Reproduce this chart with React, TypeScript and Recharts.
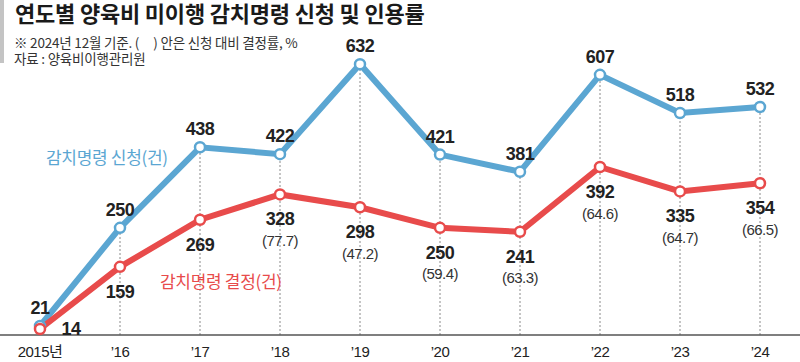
import React from 'react';
import { LineChart, Line, XAxis, YAxis, ReferenceLine, LabelList } from 'recharts';

const years = ['2015년', '’16', '’17', '’18', '’19', '’20', '’21', '’22', '’23', '’24'];
const applied = [21, 250, 438, 422, 632, 421, 381, 607, 518, 532];
const decided = [14, 159, 269, 328, 298, 250, 241, 392, 335, 354];
const rates = [null, null, null, 77.7, 47.2, 59.4, 63.3, 64.6, 64.7, 66.5];

const BLUE = '#5ba6d2';
const RED = '#e84b4b';
const NUM_FONT = "'Liberation Sans', Arial, 'Noto Sans CJK KR', sans-serif";
const KR_FONT = "'Noto Sans CJK KR', 'Noto Sans', sans-serif";

const data = years.map((year, i) => ({
  year,
  applied: applied[i],
  decided: decided[i],
  rate: rates[i],
}));

const dot = (color: string) => (p: any) => (
  <circle key={p.index} cx={p.cx} cy={p.cy} r={5} fill="#fff" stroke={color} strokeWidth={2.5} />
);

const AppliedLabel = (p: any) => (
  <text
    x={p.x}
    y={p.y - 18}
    textAnchor="middle"
    dominantBaseline="central"
    fontFamily={NUM_FONT}
    fontSize={18}
    fontWeight="bold"
    letterSpacing={-0.5}
    fill="#222"
  >
    {p.value}
  </text>
);

const DecidedLabel = (p: any) => {
  const rate = rates[p.index];
  if (p.index === 0) {
    return (
      <text x={p.x + 31} y={p.y} textAnchor="middle" dominantBaseline="central"
        fontFamily={NUM_FONT} fontSize={18} fontWeight="bold" letterSpacing={-0.5} fill="#222">
        {p.value}
      </text>
    );
  }
  return (
    <g>
      <text x={p.x} y={p.y + 25} textAnchor="middle" dominantBaseline="central"
        fontFamily={NUM_FONT} fontSize={18} fontWeight="bold" letterSpacing={-0.5} fill="#222">
        {p.value}
      </text>
      {rate != null && (
        <text x={p.x} y={p.y + 46} textAnchor="middle" dominantBaseline="central"
          fontFamily={NUM_FONT} fontSize={15} letterSpacing={-0.5} fill="#333">
          ({rate.toFixed(1)})
        </text>
      )}
    </g>
  );
};

const Tick = (p: any) => (
  <text x={p.x} y={p.y + 8} textAnchor="middle" dominantBaseline="central"
    fontFamily={NUM_FONT} fontSize={15} letterSpacing={-0.5} fill="#222">
    {p.payload.value}
  </text>
);

export default function App() {
  return (
    <div style={{ position: 'absolute', left: 0, top: 0, width: 800, height: 362, background: '#fff' }}>
      <div style={{ position: 'absolute', left: 0, top: 0, width: 4, height: 63, background: '#c4c4c4' }} />
      <div style={{ position: 'absolute', left: 15, top: 0, lineHeight: '24px', fontFamily: KR_FONT, fontWeight: 700, fontSize: 22, letterSpacing: -0.2, color: '#1a1a1a', whiteSpace: 'nowrap' }}>
        연도별 양육비 미이행 감치명령 신청 및 인용률
      </div>
      <div style={{ position: 'absolute', left: 14, top: 35, lineHeight: '15px', fontFamily: KR_FONT, fontSize: 13.5, letterSpacing: -0.2, color: '#333', whiteSpace: 'nowrap' }}>
        ※ 2024년 12월 기준. (&nbsp;&nbsp;&nbsp;&nbsp;&nbsp;) 안은 신청 대비 결정률, %
      </div>
      <div style={{ position: 'absolute', left: 14, top: 51, lineHeight: '15px', fontFamily: KR_FONT, fontSize: 13.5, letterSpacing: -0.2, color: '#333', whiteSpace: 'nowrap' }}>
        자료 : 양육비이행관리원
      </div>
      <LineChart width={800} height={362} data={data} margin={{ top: 35, right: 0, bottom: 0, left: 0 }}>
        <YAxis hide domain={[0, 700]} />
        <XAxis
          dataKey="year"
          padding={{ left: 40, right: 40 }}
          tickLine={false}
          axisLine={{ stroke: '#555', strokeWidth: 1.5 }}
          tick={Tick}
          interval={0}
          height={27}
        />
        {data.slice(1).map((d) => (
          <ReferenceLine
            key={d.year}
            segment={[{ x: d.year, y: 0 }, { x: d.year, y: d.applied }]}
            stroke="#8a8a8a"
            strokeDasharray="2 2"
          />
        ))}
        <Line dataKey="applied" stroke={BLUE} strokeWidth={6} dot={dot(BLUE)} activeDot={false} isAnimationActive={false}>
          <LabelList dataKey="applied" content={AppliedLabel} />
        </Line>
        <Line dataKey="decided" stroke={RED} strokeWidth={6} dot={dot(RED)} activeDot={false} isAnimationActive={false}>
          <LabelList dataKey="decided" content={DecidedLabel} />
        </Line>
      </LineChart>
      <div style={{ position: 'absolute', left: 46, top: 146, lineHeight: '22px', fontFamily: KR_FONT, fontSize: 17, letterSpacing: -0.3, color: BLUE, whiteSpace: 'nowrap' }}>
        감치명령 신청(건)
      </div>
      <div style={{ position: 'absolute', left: 160, top: 270, lineHeight: '22px', fontFamily: KR_FONT, fontSize: 17, letterSpacing: -0.3, color: RED, whiteSpace: 'nowrap' }}>
        감치명령 결정(건)
      </div>
    </div>
  );
}
